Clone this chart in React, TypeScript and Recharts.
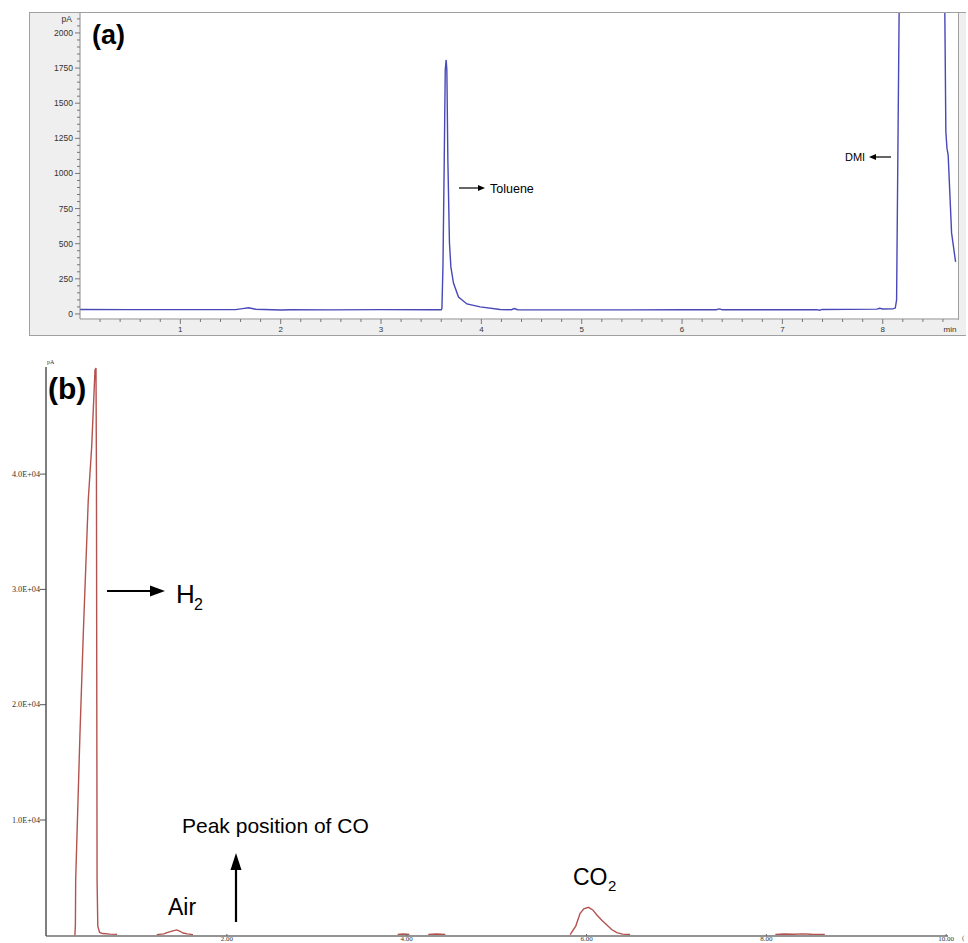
import React from 'react';
import { LineChart, Line, XAxis, YAxis } from 'recharts';

// ---------- Panel (a): liquid sample trace (pA vs min) ----------
const timeA = [0, 0.5, 1.0, 1.55, 1.62, 1.68, 1.75, 2.0, 2.1, 2.5, 3.0, 3.5, 3.6, 3.607, 3.617, 3.63, 3.64, 3.649, 3.656, 3.666, 3.682, 3.696, 3.722, 3.772, 3.856, 3.988, 4.187, 4.3, 4.33, 4.36, 5.0, 5.5, 6.0, 6.34, 6.37, 6.4, 7.0, 7.34, 7.37, 7.4, 7.94, 7.97, 8.0, 8.1, 8.125, 8.138, 8.17, 8.4, 8.612, 8.629, 8.64, 8.652, 8.686, 8.726];
const signalA = [32, 31, 31, 31, 38, 44, 33, 28, 30, 29, 31, 30, 30, 40, 335, 1096, 1736, 1808, 1736, 1096, 505, 335, 220, 120, 71, 50, 32, 30, 38, 30, 29, 29, 30, 30, 36, 30, 30, 31, 26, 32, 34, 40, 35, 36, 42, 100, 2700, 25000, 2700, 1297, 1180, 1130, 577, 370];
const xMajorA = [1, 2, 3, 4, 5, 6, 7, 8];
const xLabelsA = ['1', '2', '3', '4', '5', '6', '7', '8'];
const yMajorA = [0, 250, 500, 750, 1000, 1250, 1500, 1750, 2000];
const yLabelsA = ['0', '250', '500', '750', '1000', '1250', '1500', '1750', '2000'];
const yUnitValueA = 2100;
const yUnitA = 'pA';
const xUnitValueA = 8.67;
const xUnitA = 'min';

// ---------- Panel (b): gas sample trace ----------
const timeB = [0.31, 0.316, 0.319, 0.367, 0.404, 0.459, 0.497, 0.534, 0.545, 0.55, 0.554, 0.557, 0.565, 0.585, 0.62, 0.7, 0.78, 0.8, 1.22, 1.3, 1.335, 1.4, 1.443, 1.48, 1.513, 1.56, 1.624, 1.64, 3.9, 3.96, 4.03, 4.05, 4.24, 4.33, 4.43, 4.45, 5.818, 5.88, 5.929, 5.97, 6.021, 6.07, 6.115, 6.17, 6.226, 6.28, 6.337, 6.4, 6.485, 6.5, 8.1, 8.2, 8.3, 8.4, 8.5, 8.65];
const signalB: (number | null)[] = [0, 900, 4800, 17550, 26220, 37750, 42350, 49030, 49200, 40000, 20000, 4800, 800, 250, 150, 100, 80, null, 60, 120, 230, 380, 470, 350, 200, 120, 60, null, 80, 110, 80, null, 80, 110, 80, null, 60, 800, 1900, 2300, 2430, 2200, 1760, 1300, 890, 500, 225, 100, 70, null, 80, 110, 90, 120, 90, 80];
const xMajorB = [2, 4, 6, 8, 10];
const xLabelsB = ['2.00', '4.00', '6.00', '8.00', '10.00'];
const yMajorB = [10000, 20000, 30000, 40000];
const yLabelsB = ['1.0E+04', '2.0E+04', '3.0E+04', '4.0E+04'];

const dataA = timeA.map((t, i) => ({ t, v: signalA[i] }));
const dataB = timeB.map((t, i) => ({ t, v: signalB[i] }));

const yTicksA = [...Array.from({ length: 43 }, (_, i) => i * 50)];
const xTicksA = [...Array.from({ length: 43 }, (_, i) => Number(((i + 1) * 0.2).toFixed(1))), xUnitValueA];

const SANS = '"Liberation Sans", Arial, sans-serif';
const SERIF = '"Liberation Serif", "Times New Roman", serif';

function YTickA(props: any) {
  const { x, y, payload } = props;
  const v = payload.value;
  const idx = yMajorA.indexOf(v);
  const major = idx >= 0;
  return (
    <g>
      <line x1={x - (major ? 5 : 3)} x2={x} y1={y} y2={y} stroke="#777" strokeWidth={1} />
      {major && (
        <text x={x - 7} y={y} dy={3} textAnchor="end" fontSize={8.5} fill="#333" fontFamily={SANS}>
          {yLabelsA[idx]}
        </text>
      )}
      {v === yUnitValueA && (
        <text x={x - 8} y={y} dy={3} textAnchor="end" fontSize={8.5} fill="#333" fontFamily={SANS}>
          {yUnitA}
        </text>
      )}
    </g>
  );
}

function XTickA(props: any) {
  const { x, y, payload } = props;
  const v = payload.value;
  if (v === xUnitValueA) {
    return (
      <text x={x} y={y + 13} textAnchor="middle" fontSize={8} fill="#333" fontFamily={SANS}>
        {xUnitA}
      </text>
    );
  }
  const idx = xMajorA.indexOf(v);
  const major = idx >= 0;
  return (
    <g>
      <line x1={x} x2={x} y1={y} y2={y + (major ? 5 : 3)} stroke="#777" strokeWidth={1} />
      {major && (
        <text x={x} y={y + 13} textAnchor="middle" fontSize={8} fill="#333" fontFamily={SANS}>
          {xLabelsA[idx]}
        </text>
      )}
    </g>
  );
}

function YTickB(props: any) {
  const { x, y, payload } = props;
  const idx = yMajorB.indexOf(payload.value);
  return (
    <g>
      <line x1={x - 6} x2={x} y1={y} y2={y} stroke="#555" strokeWidth={1} />
      <text x={x - 6} y={y} dy={2.5} textAnchor="end" fontSize={8.2} fill="#333" fontFamily={SERIF}>
        {idx >= 0 ? yLabelsB[idx] : ''}
      </text>
    </g>
  );
}

function XTickB(props: any) {
  const { x, y, payload } = props;
  const idx = xMajorB.indexOf(payload.value);
  return (
    <g>
      <line x1={x} x2={x} y1={y - 2} y2={y} stroke="#666" strokeWidth={1} />
      <text x={x} y={y + 5} textAnchor="middle" fontSize={7} fill="#333" fontFamily={SERIF}>
        {idx >= 0 ? xLabelsB[idx] : ''}
      </text>
    </g>
  );
}

function ArrowRight({ x1, x2, y, head, half, w }: any) {
  return (
    <g>
      <line x1={x1} x2={x2 - head + 1} y1={y} y2={y} stroke="#000" strokeWidth={w} />
      <polygon points={`${x2},${y} ${x2 - head},${y - half} ${x2 - head},${y + half}`} fill="#000" />
    </g>
  );
}

function ArrowLeft({ x1, x2, y, head, half, w }: any) {
  return (
    <g>
      <line x1={x1} x2={x2 + head - 1} y1={y} y2={y} stroke="#000" strokeWidth={w} />
      <polygon points={`${x2},${y} ${x2 + head},${y - half} ${x2 + head},${y + half}`} fill="#000" />
    </g>
  );
}

function ArrowUp({ x, y1, y2, head, half, w }: any) {
  return (
    <g>
      <line x1={x} x2={x} y1={y1} y2={y2 + head - 1} stroke="#000" strokeWidth={w} />
      <polygon points={`${x},${y2} ${x - half},${y2 + head} ${x + half},${y2 + head}`} fill="#000" />
    </g>
  );
}

export default function App() {
  return (
    <div style={{ position: 'absolute', left: 0, top: 0, width: 968, height: 943, background: '#fff', fontFamily: SANS }}>
      {/* panel (a) frame */}
      <div style={{ position: 'absolute', left: 29, top: 12, width: 937, height: 324, background: '#efefef', borderTop: '1px solid #a0a0a0', borderBottom: '1px solid #a0a0a0', borderLeft: '1px solid #a0a0a0', boxSizing: 'border-box' }} />
      <div style={{ position: 'absolute', left: 80, top: 12, width: 879, height: 308, background: '#fff', borderTop: '1px solid #a0a0a0', borderRight: '1px solid #a0a0a0', boxSizing: 'border-box' }} />

      <div style={{ position: 'absolute', left: 0, top: 0 }}>
        <LineChart width={968} height={340} data={dataA} margin={{ top: 13, right: 10, bottom: 5, left: 29 }}>
          <XAxis
            type="number"
            dataKey="t"
            domain={[0, 8.75]}
            allowDataOverflow
            ticks={xTicksA}
            interval={0}
            tickSize={0}
            tickMargin={0}
            tickLine={false}
            tick={<XTickA />}
            height={16}
            axisLine={{ stroke: '#8a8a8a', strokeWidth: 1 }}
          />
          <YAxis
            type="number"
            domain={[-36, 2142]}
            allowDataOverflow
            ticks={yTicksA}
            interval={0}
            tickSize={0}
            tickMargin={0}
            tickLine={false}
            tick={<YTickA />}
            width={51}
            axisLine={{ stroke: '#8a8a8a', strokeWidth: 1 }}
          />
          <Line type="linear" dataKey="v" stroke="#4848b8" strokeWidth={1.4} dot={false} isAnimationActive={false} />
        </LineChart>
      </div>

      <div style={{ position: 'absolute', left: 0, top: 340 }}>
        <LineChart width={968} height={603} data={dataB} margin={{ top: 27, right: 20, bottom: 0, left: 0 }}>
          <XAxis
            type="number"
            dataKey="t"
            domain={[-0.011, 10.02]}
            allowDataOverflow
            ticks={xMajorB}
            interval={0}
            tickSize={0}
            tickMargin={0}
            tickLine={false}
            tick={<XTickB />}
            height={7}
            axisLine={{ stroke: '#707070', strokeWidth: 1.5 }}
          />
          <YAxis
            type="number"
            domain={[-61, 49290]}
            allowDataOverflow
            ticks={yMajorB}
            interval={0}
            tickSize={0}
            tickMargin={0}
            tickLine={false}
            tick={<YTickB />}
            width={46}
            axisLine={{ stroke: '#555', strokeWidth: 1.5 }}
          />
          <Line type="linear" dataKey="v" stroke="#b4524e" strokeWidth={1.4} dot={false} connectNulls={false} isAnimationActive={false} />
        </LineChart>
      </div>

      {/* annotations */}
      <svg width={968} height={943} style={{ position: 'absolute', left: 0, top: 0, pointerEvents: 'none' }}>
        <text x={92} y={44} fontSize={27} fontWeight="bold" fontFamily={SANS} fill="#000">(a)</text>
        <ArrowRight x1={459} x2={485} y={188} head={7} half={3} w={1.2} />
        <text x={490} y={192.5} fontSize={12.5} fontFamily={SANS} fill="#000">Toluene</text>
        <text x={845} y={161} fontSize={11} fontFamily={SANS} fill="#000">DMI</text>
        <ArrowLeft x1={891} x2={869} y={157} head={7} half={3} w={1.2} />

        <text x={48} y={399} fontSize={30} fontWeight="bold" fontFamily={SANS} fill="#000">(b)</text>
        <text x={47} y={364} fontSize={6} fontFamily={SERIF} fill="#333">pA</text>
        <ArrowRight x1={107} x2={165} y={591} head={15} half={5.5} w={2} />
        <text x={176} y={603} fontSize={26} fontFamily={SANS} fill="#000">H</text>
        <text x={194} y={610} fontSize={16} fontFamily={SANS} fill="#000">2</text>
        <text x={182} y={833} fontSize={21} fontFamily={SANS} fill="#000">Peak position of CO</text>
        <ArrowUp x={236} y1={922} y2={853} head={17} half={5.5} w={2.2} />
        <text x={168} y={915} fontSize={23} fontFamily={SANS} fill="#000">Air</text>
        <text x={573} y={885} fontSize={23} fontFamily={SANS} fill="#000">CO</text>
        <text x={608} y={891} fontSize={15} fontFamily={SANS} fill="#000">2</text>
        <text x={962} y={940} fontSize={7} fontFamily={SERIF} fill="#555">(</text>
      </svg>
    </div>
  );
}
